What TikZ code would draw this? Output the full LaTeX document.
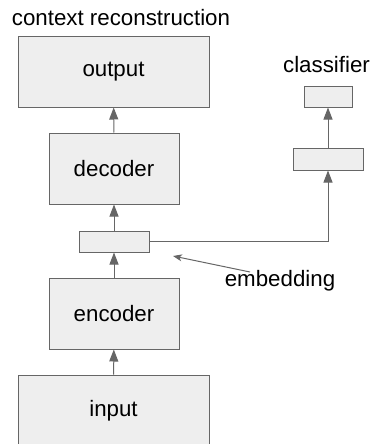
\documentclass[tikz,border=0pt]{standalone}
\usepackage{fontspec}
\setmainfont{Liberation Sans}
\usetikzlibrary{arrows.meta}
\definecolor{boxfill}{HTML}{EEEEEE}
\definecolor{boxline}{HTML}{666666}
\begin{document}
\begin{tikzpicture}[x=1pt,y=-1pt,font=\fontsize{22.3}{26}\selectfont,
	block/.style={draw=boxline,fill=boxfill,line width=1pt,inner sep=0pt},
	flow/.style={draw=boxline,line width=1pt,-{Triangle[length=12pt,width=9pt]}},
	pointer/.style={draw=boxline,line width=1pt,-{Stealth[length=9pt,width=7pt,inset=2.5pt]}}]
	%frame
	\useasboundingbox (0,0) rectangle (372,444);

	%left column
	\node[block,minimum width=191pt,minimum height=70pt] (output) at (113.5,72) {output};
	\node[block,minimum width=130pt,minimum height=71pt] (decoder) at (114,168.5) {decoder};
	\node[block,minimum width=70pt,minimum height=21pt] (emb) at (114,241.5) {};
	\node[block,minimum width=130pt,minimum height=71pt] (encoder) at (114,313.5) {encoder};
	\node[block,minimum width=191pt,minimum height=72pt] (input) at (113.5,411) {input};

	%classifier column
	\node[block,minimum width=48pt,minimum height=21pt] (cls) at (328,96.5) {};
	\node[block,minimum width=70pt,minimum height=22pt] (hidden) at (328,159) {};

	%labels
	\node (ctxlabel) at (121,18) {context reconstruction};
	\node (clslabel) at (326.5,65) {classifier};
	\node (emblabel) at (280,281) {embedding};
	\coordinate (embtail) at (250,272);
	\coordinate (embtip) at (173,256);

	%arrows
	\draw[flow] (input) -- (encoder);
	\draw[flow] (encoder) -- (emb);
	\draw[flow] (emb) -- (decoder);
	\draw[flow] (decoder) -- (output);
	\draw[flow] (emb.east) -| (hidden.south);
	\draw[flow] (hidden) -- (cls);
	\draw[pointer] (embtail) -- (embtip);
\end{tikzpicture}
\end{document}
